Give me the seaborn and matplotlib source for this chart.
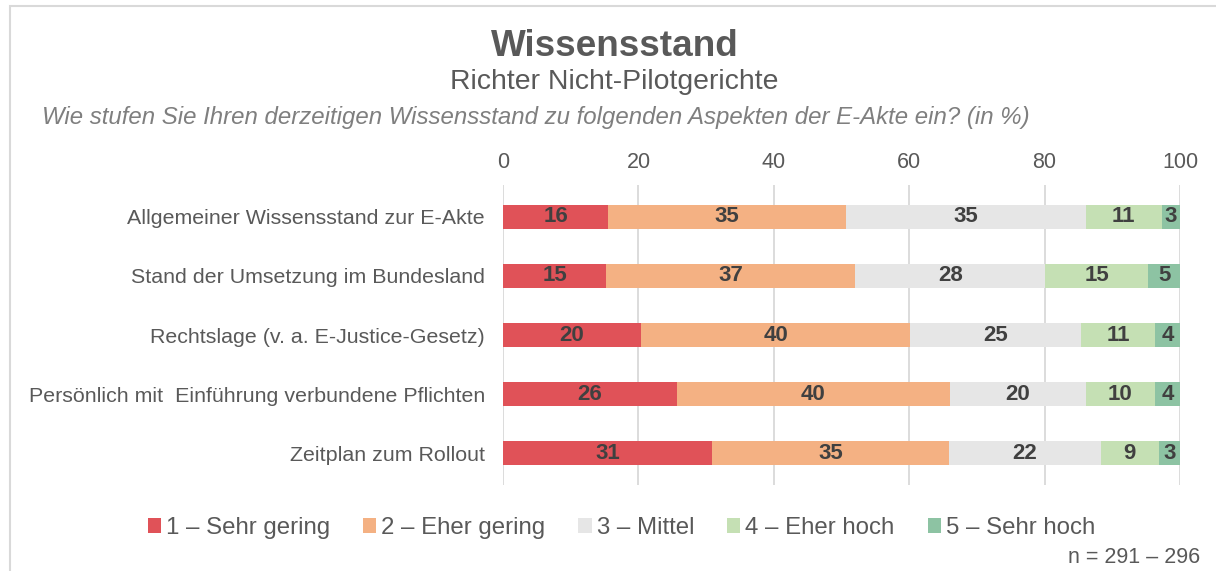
import numpy as np
import pandas as pd
import matplotlib
matplotlib.use('Agg')
from matplotlib import pyplot as plt
from matplotlib.patches import Patch, Rectangle
import seaborn as sns

categories = ['Allgemeiner Wissensstand zur E-Akte',
              'Stand der Umsetzung im Bundesland',
              'Rechtslage (v. a. E-Justice-Gesetz)',
              'Persönlich mit  Einführung verbundene Pflichten',
              'Zeitplan zum Rollout']
levels = ['1 – Sehr gering', '2 – Eher gering', '3 – Mittel', '4 – Eher hoch', '5 – Sehr hoch']
sehr_gering = [15.5, 15.2, 20.4, 25.7, 30.9]
eher_gering = [35.2, 36.8, 39.7, 40.3, 35.0]
mittel = [35.4, 28.1, 25.3, 20.1, 22.4]
eher_hoch = [11.2, 15.2, 10.9, 10.2, 8.6]
sehr_hoch = [2.7, 4.7, 3.7, 3.7, 3.1]
colors = ['#E05258', '#F4B183', '#E6E6E6', '#C5E0B4', '#8DC3A3']

sns.set_style('white')
plt.rcParams['font.family'] = ['Liberation Sans', 'DejaVu Sans']
txt = '#595959'

df = pd.DataFrame(dict(zip(levels, [sehr_gering, eher_gering, mittel, eher_hoch, sehr_hoch])))
df['Aspekt'] = categories
cum = df[levels].cumsum(axis=1)

fig = plt.figure(figsize=(12.16, 5.71), dpi=100)
ax = fig.add_axes([0.4137, 0.1506, 0.5567, 0.5254])

# stacked bars: draw cumulative totals from the widest down
for i in reversed(range(len(levels))):
    sns.barplot(x=cum[levels[i]], y=df['Aspekt'], orient='h', color=colors[i],
                saturation=1, width=0.4, linewidth=0, ax=ax, zorder=3)

for r in range(len(categories)):
    left = 0
    for i, lv in enumerate(levels):
        v = df[lv].iloc[r]
        ax.text(left + v / 2, r, f'{int(round(v))}', ha='center', va='center',
                fontsize=16, fontweight='bold', color='#404040', zorder=4)
        left += v

ax.set_xlim(0, 100)
ax.set_ylim(4.54, -0.54)
ax.set_xticks(np.arange(0, 101, 20))
ax.xaxis.tick_top()
ax.tick_params(axis='x', length=0, pad=9, labelsize=15.5, labelcolor=txt)
ax.tick_params(axis='y', length=0, pad=13, labelsize=15.4, labelcolor=txt)
ax.set_xlabel('')
ax.set_ylabel('')
ax.grid(axis='x', color='#D9D9D9', linewidth=1.3, zorder=0)
ax.grid(axis='y', visible=False)
ax.set_axisbelow(True)
for s in ax.spines.values():
    s.set_visible(False)

fig.text(0.5058, 0.919, 'Wissensstand', ha='center', va='center', fontsize=26.6,
         fontweight='bold', color=txt)
fig.text(0.505, 0.856, 'Richter Nicht-Pilotgerichte', ha='center', va='center',
         fontsize=20.4, color=txt)
fig.text(0.0345, 0.795, 'Wie stufen Sie Ihren derzeitigen Wissensstand zu folgenden Aspekten der E-Akte ein? (in %)',
         ha='left', va='center', fontsize=17.3, style='italic', color='#7F7F7F')

handles = [Patch(facecolor=c, edgecolor='none') for c in colors]
fig.legend(handles, levels, loc='center', bbox_to_anchor=(0.511, 0.075), ncol=5,
           frameon=False, fontsize=17.3, handlelength=0.55, handleheight=0.55,
           handletextpad=0.2, columnspacing=1.38, labelcolor=txt)
fig.text(0.987, 0.023, 'n = 291 – 296', ha='right', va='center', fontsize=15.5, color=txt)

fig.patches.append(Rectangle((10 / 1216, -0.1), 1.2, 1 - 6 / 571 + 0.1,
                             transform=fig.transFigure, fill=False,
                             edgecolor='#D9D9D9', linewidth=1.5))

fig.savefig('out.png', dpi=100, facecolor='white')
